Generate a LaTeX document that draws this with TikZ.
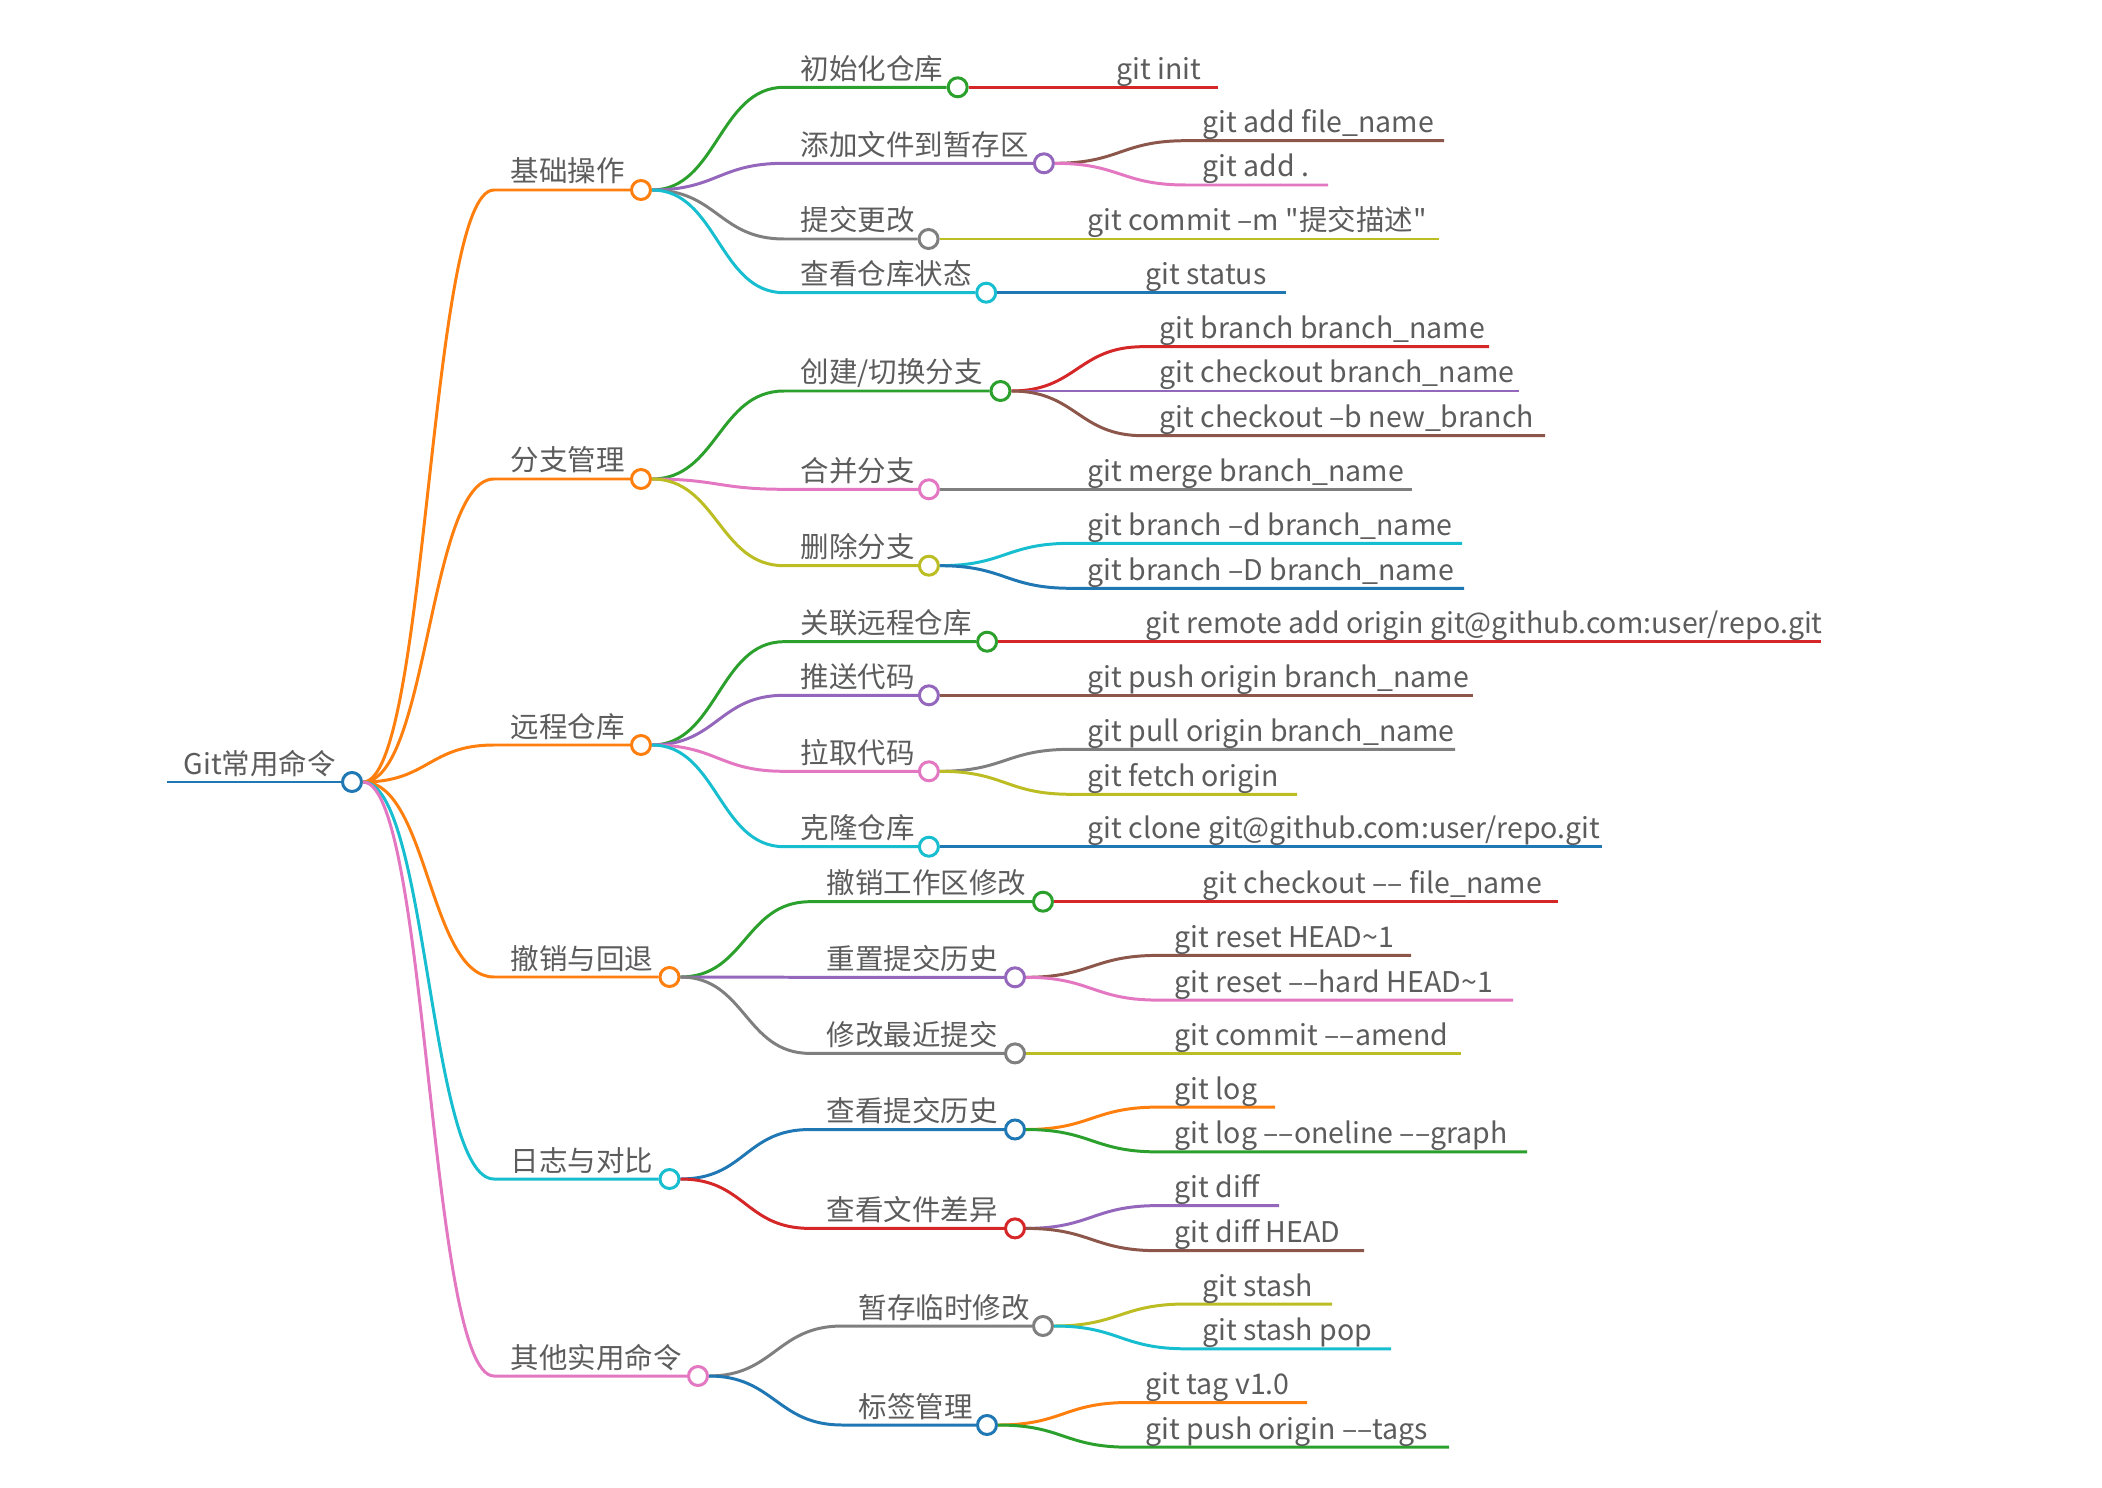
\documentclass[tikz,border=0pt]{standalone}
\usepackage{fontspec}
\setmainfont{Noto Sans CJK SC}
\usetikzlibrary{positioning}
\definecolor{mmblue}{HTML}{1F77B4}
\definecolor{mmorange}{HTML}{FF7F0E}
\definecolor{mmgreen}{HTML}{2CA02C}
\definecolor{mmred}{HTML}{D62728}
\definecolor{mmpurple}{HTML}{9467BD}
\definecolor{mmbrown}{HTML}{8C564B}
\definecolor{mmpink}{HTML}{E377C2}
\definecolor{mmgray}{HTML}{7F7F7F}
\definecolor{mmolive}{HTML}{BCBD22}
\definecolor{mmcyan}{HTML}{17BECF}
\definecolor{txtgray}{HTML}{5C5C5C}
\tikzset{
  lnk/.style={line width=0.85pt},
  hub/.style={circle,draw,fill=white,line width=0.85pt,minimum size=0.19cm,inner sep=0pt},
  lbl/.style={anchor=base west,inner sep=0pt,text=txtgray,font=\fontsize{8.1}{10}\selectfont},
}

\begin{document}
\begin{tikzpicture}[x=0.01cm,y=-0.01cm]
  \useasboundingbox (0,0) rectangle (2102,1488);
  % root
  \coordinate (root-s) at (167,782);
  \node[hub,draw=mmblue] (root) at (352,782) {};
  \draw[lnk,mmblue] (root-s) -- (root.west);
  \path (root-s) ++(16,-8) node[lbl] (troot) {Git常用命令};
  % first level
  \foreach \n/\sx/\cx/\y/\col/\txt in {
      b1/494/641/190/mmorange/基础操作, b2/494/641/479/mmorange/分支管理,
      b3/494/641/745/mmorange/远程仓库, b4/494/669.5/977/mmorange/撤销与回退,
      b5/494/669.5/1179/mmcyan/日志与对比, b6/494/698/1376/mmpink/其他实用命令}{
    \coordinate (\n-s) at (\sx,\y);
    \node[hub,draw=\col] (\n) at (\cx,\y) {};
    \draw[lnk,\col] (root.east) .. controls +(65,0) and +(-65,0) .. (\n-s) -- (\n.west);
    \path (\n-s) ++(16,-8) node[lbl] (t\n) {\txt};
  }
  % second level
  \foreach \up/\n/\sx/\cx/\y/\col/\txt in {
      b1/k11/784/957.7/87.3/mmgreen/初始化仓库,
      b1/k12/784/1043.9/163.3/mmpurple/添加文件到暂存区,
      b1/k13/784/928.6/239/mmgray/提交更改,
      b1/k14/784/986.2/292.7/mmcyan/查看仓库状态,
      b2/k21/784/1000.5/391/mmgreen/{创建/切换分支},
      b2/k22/784/928.9/489.3/mmpink/合并分支,
      b2/k23/784/928.9/565.7/mmolive/删除分支,
      b3/k31/784/987.1/641.7/mmgreen/关联远程仓库,
      b3/k32/784/928.9/695.3/mmpurple/推送代码,
      b3/k33/784/928.9/771.3/mmpink/拉取代码,
      b3/k34/784/928.9/846.7/mmcyan/克隆仓库,
      b4/k41/810/1043/901.7/mmgreen/撤销工作区修改,
      b4/k42/810/1015/977.3/mmpurple/重置提交历史,
      b4/k43/810/1015/1053.4/mmgray/修改最近提交,
      b5/k51/810/1015/1129.5/mmblue/查看提交历史,
      b5/k52/810/1015/1228.4/mmred/查看文件差异,
      b6/k61/842/1043/1326/mmgray/暂存临时修改,
      b6/k62/842/987/1425/mmblue/标签管理}{
    \coordinate (\n-s) at (\sx,\y);
    \node[hub,draw=\col] (\n) at (\cx,\y) {};
    \draw[lnk,\col] (\up.east) .. controls +(65,0) and +(-65,0) .. (\n-s) -- (\n.west);
    \path (\n-s) ++(16,-8) node[lbl] (t\n) {\txt};
  }
  % commands
  \foreach \up/\n/\sx/\ex/\y/\col/\txt in {
      k11/c1/1100/1218/87.3/mmred/git init,
      k12/c2/1186/1444/140.7/mmbrown/git add file\_name,
      k12/c3/1186/1328/185/mmpink/git add .,
      k13/c4/1071/1439/239/mmolive/git commit –m \textquotedbl 提交描述\textquotedbl,
      k14/c5/1129/1286/292.7/mmblue/git status,
      k21/c6/1143/1489/346.7/mmred/git branch branch\_name,
      k21/c7/1143/1519/391/mmpurple/git checkout branch\_name,
      k21/c8/1143/1545/435.7/mmbrown/git checkout –b new\_branch,
      k22/c9/1071/1412/489.3/mmgray/git merge branch\_name,
      k23/c10/1071/1462/543.3/mmcyan/git branch –d branch\_name,
      k23/c11/1071/1464/588.3/mmblue/git branch –D branch\_name,
      k31/c12/1129/1821/641.7/mmred/{git remote add origin git@github.com:user/repo.git},
      k32/c13/1071/1473/695.3/mmbrown/git push origin branch\_name,
      k33/c14/1071/1455/749.3/mmgray/git pull origin branch\_name,
      k33/c15/1071/1297/794.3/mmolive/git fetch origin,
      k34/c16/1071/1602/846.7/mmblue/{git clone git@github.com:user/repo.git},
      k41/c17/1186/1558/901.7/mmred/git checkout –– file\_name,
      k42/c18/1158/1411/955.4/mmbrown/git reset HEAD\textasciitilde1,
      k42/c19/1158/1513/1000.1/mmpink/git reset ––hard HEAD\textasciitilde1,
      k43/c20/1158/1461/1053.4/mmolive/git commit ––amend,
      k51/c21/1158/1275/1107.1/mmorange/git log,
      k51/c22/1158/1527/1151.9/mmgreen/git log ––oneline ––graph,
      k52/c23/1158/1279/1205.6/mmpurple/git diff,
      k52/c24/1158/1364/1250.7/mmbrown/git diff HEAD,
      k61/c25/1186/1332/1304/mmolive/git stash,
      k61/c26/1186/1391/1348.8/mmcyan/git stash pop,
      k62/c27/1129/1307/1402.5/mmorange/git tag v1.0,
      k62/c28/1129/1449/1447.2/mmgreen/git push origin ––tags}{
    \coordinate (\n-s) at (\sx,\y);
    \coordinate (\n) at (\ex,\y);
    \draw[lnk,\col] (\up.east) .. controls +(65,0) and +(-65,0) .. (\n-s) -- (\n);
    \path (\n-s) ++(16,-8) node[lbl] (t\n) {\txt};
  }
\end{tikzpicture}
\end{document}
